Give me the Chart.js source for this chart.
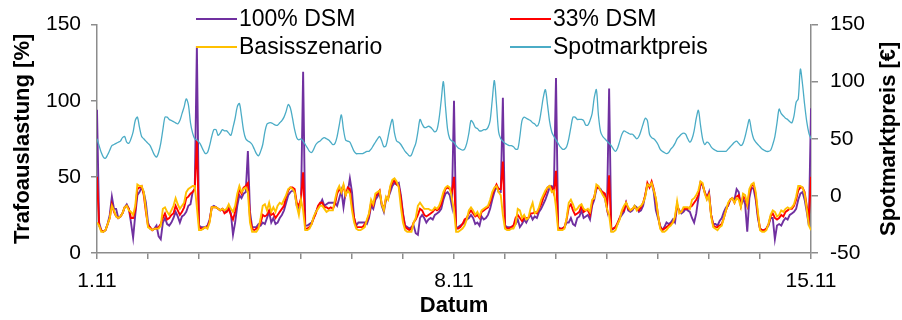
<!DOCTYPE html>
<html>
<head>
<meta charset="utf-8">
<script src="https://cdn.jsdelivr.net/npm/chart.js@4.4.1/dist/chart.umd.min.js"></script>
<style>
  body { margin: 0; background: #fff; }
  canvas { display: block; }
</style>
</head>
<body>
<canvas id="chart" width="902" height="320"></canvas>
<script>
// hourly values, 1.11 00:00 .. 15.11 00:00 (337 points)
const dsm100 = [
  94,20,15,14,15,19,25,37,29,29,23,24,26,30,32,29,20,10,25,38,40,43,40,33,
  20,16,15,16,18,11,9,20,23,19,18,20,23,27,24,20,24,25,27,31,32,40,42,136,
  18,17,17,17,18,22,30,31,30,29,28,29,28,27,30,26,12,20,31,38,36,39,40,67,
  27,17,17,17,19,18,20,19,23,27,20,23,19,20,23,25,28,33,38,40,41,40,31,29,
  32,119,18,18,19,20,23,27,30,32,35,31,32,33,33,33,33,31,36,41,30,40,40,49,
  40,23,18,20,20,20,20,19,23,31,29,35,37,40,31,27,35,36,40,44,46,45,46,38,
  26,18,17,16,17,18,13,12,23,25,23,20,22,23,22,25,26,27,29,35,39,40,38,31,
  100,16,17,18,19,20,22,23,25,23,19,20,18,24,22,23,25,29,35,40,44,40,40,102,
  18,17,17,17,18,19,22,17,19,22,20,23,25,22,24,23,27,29,32,35,39,43,44,42,
  115,17,16,16,17,20,20,23,19,18,23,24,28,23,24,25,22,31,35,42,43,42,39,36,
  29,108,15,16,17,19,23,25,27,33,28,27,28,31,30,27,28,31,38,45,44,46,40,28,
  23,18,15,17,20,19,20,22,20,31,28,26,27,29,28,27,23,20,26,36,46,44,40,36,
  40,25,19,19,18,21,23,27,30,31,35,36,35,42,40,31,36,32,14,36,43,42,35,23,
  16,15,15,16,18,23,23,9,18,19,18,21,23,22,25,26,27,29,35,39,40,35,27,18,95
];
const dsm33 = [
  50,18,15,14,15,19,23,32,27,24,23,24,26,30,31,29,23,23,28,42,43,44,38,27,
  18,17,15,16,16,17,19,23,26,22,23,25,26,31,28,25,27,30,36,37,39,40,42,74,
  17,16,16,17,17,21,30,30,30,29,28,29,26,27,29,25,22,27,36,42,39,43,44,46,
  23,16,15,16,17,20,25,24,25,28,25,26,23,25,27,29,31,37,41,43,43,42,33,31,
  36,53,16,16,17,19,23,26,31,33,33,30,30,29,30,29,32,39,42,40,44,38,43,42,
  31,23,17,17,17,17,19,21,25,33,31,37,39,41,32,29,36,36,43,46,48,45,44,36,
  25,17,16,15,16,20,22,25,29,28,25,24,25,26,27,29,28,29,32,38,42,43,42,40,
  50,16,16,17,19,22,23,26,28,26,24,25,23,27,28,29,30,33,38,42,45,42,42,60,
  17,16,16,17,18,23,25,23,21,23,23,23,26,26,27,26,29,32,36,39,43,44,43,39,
  54,16,16,16,17,22,30,32,28,25,26,27,31,27,28,28,25,33,37,43,43,41,40,39,
  30,51,16,16,17,20,23,27,28,33,29,28,29,30,29,28,30,33,38,46,43,47,42,35,
  25,17,15,16,17,18,19,20,23,32,27,27,29,29,29,30,31,33,35,38,46,45,40,36,
  39,25,18,17,17,18,19,23,28,32,35,36,33,37,38,31,37,36,31,40,44,45,38,25,
  16,15,15,16,19,24,26,23,22,23,25,24,27,28,29,29,31,35,41,43,43,40,31,23,50
];
const basis = [
  20,18,14,14,15,19,23,31,28,24,23,24,26,30,31,28,27,25,31,45,44,44,40,29,
  17,16,15,16,16,16,18,29,30,27,25,28,31,36,32,29,31,33,40,42,43,44,44,30,
  15,15,16,17,16,20,30,30,30,29,28,29,28,29,32,29,27,31,39,44,40,42,43,40,
  20,14,14,14,16,23,31,32,28,33,27,30,27,31,33,32,35,38,42,43,42,40,31,25,
  35,28,15,15,16,19,24,27,29,31,31,29,27,28,28,28,35,41,44,40,45,38,41,39,
  28,20,16,15,15,16,17,22,26,35,32,39,40,41,32,28,37,35,44,48,49,47,43,30,
  20,15,14,14,14,20,23,31,33,31,29,29,29,28,28,30,29,31,35,40,43,44,43,36,
  28,14,14,15,16,18,22,28,30,28,25,27,24,28,29,30,31,35,40,43,44,40,38,25,
  16,15,15,16,16,19,29,28,23,25,22,23,29,33,26,27,30,35,38,41,43,44,40,41,
  30,15,15,15,16,23,33,35,32,28,29,31,32,29,28,29,27,35,36,45,44,41,38,36,
  29,25,14,14,15,19,22,28,31,33,30,28,29,31,28,30,31,33,37,45,44,46,41,36,
  25,16,14,14,15,17,18,20,24,34,26,27,30,30,30,29,35,36,38,41,47,46,39,35,
  38,24,17,16,15,17,18,23,28,33,35,36,33,36,35,30,39,38,32,42,45,46,40,27,
  15,14,14,15,19,25,28,27,24,25,28,27,29,30,29,30,32,37,44,44,43,39,29,18,15
];
const spotPrice = [
  50,44,38,34,33,36,40,44,45,46,47,48,51,52,47,46,50,56,66,69,60,52,50,48,
  46,44,40,36,34,38,46,58,69,69,67,66,65,64,63,66,72,78,85,80,64,55,50,49,
  47,44,40,37,38,44,52,58,58,53,55,58,57,57,55,53,60,68,78,81,70,57,50,48,
  47,45,41,37,35,39,45,56,63,64,64,63,62,62,64,66,69,74,80,77,68,58,51,49,
  50,48,45,42,39,38,41,45,47,48,50,51,50,49,47,45,46,52,62,71,58,49,48,47,
  43,39,37,37,37,37,38,39,39,41,44,47,50,52,48,43,44,52,61,67,55,48,47,45,
  42,39,37,35,36,41,46,56,67,63,60,60,61,60,58,56,58,68,84,100,78,58,50,48,
  47,44,42,41,40,41,46,55,66,64,60,59,57,57,58,58,60,66,84,101,80,56,50,48,
  46,45,44,44,43,41,41,52,66,69,68,67,66,64,63,61,64,74,86,93,80,65,56,52,
  49,46,43,41,41,43,50,60,69,69,67,67,67,66,62,62,66,72,86,93,70,56,52,50,
  48,46,44,41,39,42,48,54,57,56,55,54,54,52,50,52,57,63,68,66,54,51,50,48,
  45,41,39,38,37,38,41,43,46,50,52,54,55,54,50,47,50,57,68,75,62,50,45,47,
  46,43,41,40,39,39,39,39,39,41,43,45,47,48,46,44,46,52,60,67,57,50,47,45,
  43,41,40,39,39,40,45,52,64,76,72,70,68,67,65,64,70,82,85,111,98,80,65,55,50
];
const seriesNames = ["100% DSM", "33% DSM", "Basisszenario", "Spotmarktpreis"];
const dayLabels = ["1.11", "8.11", "15.11"]; // every 7 days
const loadTicks = [0, 50, 100, 150];
const priceTicks = [-50, 0, 50, 100, 150];

const font = "'Liberation Sans', Arial, sans-serif";
const axisGrey = "#8c8c8c";

function toPoints(arr) {
  return arr.map((v, i) => ({ x: i, y: v }));
}

// legend + axis titles drawn by hand (2-column legend, both titles bottom-to-top)
const overlay = {
  id: "overlay",
  afterDraw(chart) {
    const ctx = chart.ctx;
    ctx.save();
    ctx.font = "23px " + font;
    ctx.textBaseline = "middle";
    ctx.textAlign = "left";
    const cols = [196, 510];
    const rows = [19, 47];
    const slots = [[0, 0], [1, 0], [0, 1], [1, 1]];
    chart.data.datasets.forEach((ds, i) => {
      const x = cols[slots[i][0]];
      const y = rows[slots[i][1]];
      ctx.strokeStyle = ds.borderColor;
      ctx.lineWidth = 2;
      ctx.beginPath();
      ctx.moveTo(x, y);
      ctx.lineTo(x + 41, y);
      ctx.stroke();
      ctx.fillStyle = "#000";
      ctx.fillText(ds.label, x + 43, y + 1);
    });

    ctx.font = "bold 22px " + font;
    ctx.textAlign = "center";
    ctx.fillStyle = "#000";
    const midY = (chart.chartArea.top + chart.chartArea.bottom) / 2;
    [[23, "Trafoauslastung [%]"], [889, "Spotmarktpreis [€]"]].forEach(([x, t]) => {
      ctx.save();
      ctx.translate(x, midY);
      ctx.rotate(-Math.PI / 2);
      ctx.fillText(t, 0, 0);
      ctx.restore();
    });
    ctx.fillText("Datum", (chart.chartArea.left + chart.chartArea.right) / 2, 306);
    ctx.restore();
  }
};

const ctx = document.getElementById("chart").getContext("2d");
const chart = new Chart(ctx, {
  type: "line",
  data: {
    datasets: [
      { label: seriesNames[0], data: toPoints(dsm100), borderColor: "#7030A0", borderWidth: 1.9, yAxisID: "y", order: 4 },
      { label: seriesNames[1], data: toPoints(dsm33), borderColor: "#FF0000", borderWidth: 1.9, yAxisID: "y", order: 3 },
      { label: seriesNames[2], data: toPoints(basis), borderColor: "#FFC000", borderWidth: 1.9, yAxisID: "y", order: 2 },
      { label: seriesNames[3], data: toPoints(spotPrice), borderColor: "#4BACC6", borderWidth: 1.3, yAxisID: "y1", order: 1, tension: 0.3 }
    ]
  },
  options: {
    responsive: false,
    animation: false,
    devicePixelRatio: 1,
    elements: { point: { radius: 0 }, line: { tension: 0 } },
    layout: { padding: { top: 22, left: 0, right: 0, bottom: 0 } },
    plugins: { legend: { display: false }, tooltip: { enabled: false } },
    scales: {
      x: {
        type: "linear",
        min: 0,
        max: 336,
        afterBuildTicks: s => { s.ticks = []; for (let h = 0; h <= 336; h += 24) s.ticks.push({ value: h }); },
        ticks: {
          autoSkip: false,
          maxRotation: 0,
          padding: 10,
          color: "#000",
          font: { family: font, size: 21 },
          callback: v => (v % 168 === 0 ? dayLabels[v / 168] : "")
        },
        grid: { drawOnChartArea: false, drawTicks: true, tickLength: 6, color: axisGrey, lineWidth: 1.5 },
        border: { color: axisGrey, width: 1.5 },
        afterFit: s => { s.height = 67; }
      },
      y: {
        position: "left",
        min: 0,
        max: 150,
        afterBuildTicks: s => { s.ticks = loadTicks.map(v => ({ value: v })); },
        ticks: { padding: 10, color: "#000", font: { family: font, size: 21 } },
        grid: { drawOnChartArea: false, drawTicks: true, tickLength: 6, color: axisGrey, lineWidth: 1.5 },
        border: { color: axisGrey, width: 1.5 },
        afterFit: s => { s.width = 97; }
      },
      y1: {
        position: "right",
        min: -50,
        max: 150,
        afterBuildTicks: s => { s.ticks = priceTicks.map(v => ({ value: v })); },
        ticks: { padding: 12, color: "#000", font: { family: font, size: 21 } },
        grid: { drawOnChartArea: false, drawTicks: true, tickLength: 7, color: axisGrey, lineWidth: 1.5 },
        border: { color: axisGrey, width: 1.5 },
        afterFit: s => { s.width = 91; }
      }
    }
  },
  plugins: [overlay]
});
</script>
</body>
</html>
